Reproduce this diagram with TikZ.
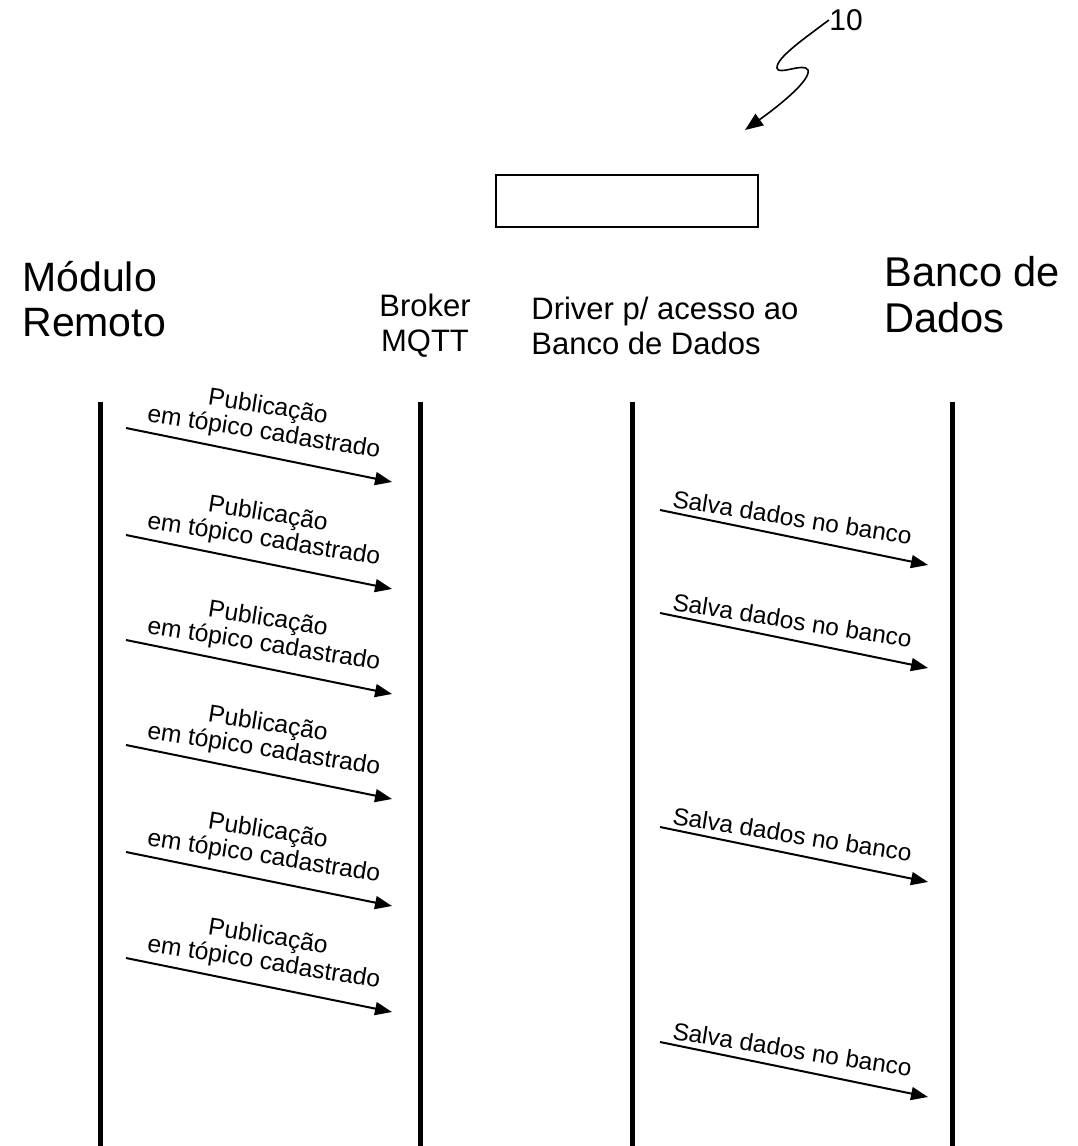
\documentclass[tikz,border=0pt]{standalone}
\usepackage{fontspec}
\setmainfont{Liberation Sans}
\usetikzlibrary{arrows.meta}

\tikzset{
  lifeline/.style={line width=2.5pt},
  msg/.style={line width=1pt,-{Triangle[length=8.5pt,width=6.5pt]}},
  msglabel/.style={rotate=-9,align=center,inner sep=0pt,font=\fontsize{12.3}{13}\selectfont},
  bigtitle/.style={inner sep=0pt,align=left,font=\fontsize{20.5}{22.8}\selectfont},
  smalltitle/.style={inner sep=0pt,font=\fontsize{15.5}{17.5}\selectfont},
}

\begin{document}
\begin{tikzpicture}[x=0.5pt,y=-0.5pt]
    \useasboundingbox (0,0) rectangle (1077,1146);

    % participants
    \node[bigtitle,anchor=west] (modulo) at (22,299) {Módulo\\Remoto};
    \node[smalltitle,align=center] (broker) at (425,326) {Broker\\MQTT};
    \node[smalltitle,align=left,anchor=west] (driver) at (531,326) {Driver p/ acesso ao\\Banco de Dados};
    \node[bigtitle,anchor=west,font=\fontsize{20.8}{23}\selectfont] (banco) at (884,295) {Banco de\\Dados};

    % reference numeral and empty box
    \node[inner sep=0pt,font=\fontsize{15}{15}\selectfont] (ref) at (846,20) {10};
    \node[draw,line width=1.2pt,minimum width=131pt,minimum height=26pt,inner sep=0pt] (box) at (627,201) {};
    \draw[line width=0.8pt,-{Triangle[length=9pt,width=7pt]}] (ref.west) .. controls (805,38) and (776,58) .. (777,68)
        .. controls (778,76) and (804,62) .. (808,70) .. controls (811,80) and (780,105) .. (745,130);

\foreach \x/\name in {100/mr,420/mq,632/dr,952/bd}
    {\coordinate (\name top) at (\x,402); \coordinate (\name bot) at (\x,1146);
     \draw[lifeline] (\name top) -- (\name bot);}

% Modulo -> Broker
\foreach \i/\y in {1/428,2/535,3/640,4/745,5/852,6/958}
    {\coordinate (pub\i a) at (126,\y); \coordinate (pub\i b) at (392,\y+54);
     \draw[msg] (pub\i a) -- (pub\i b);
     \node[msglabel,anchor=south] (pub\i l) at (262,\y+17) {Publicação\\em tópico cadastrado};}

% Driver -> Banco
\foreach \i/\y in {1/510,2/613,3/827,4/1042}
    {\coordinate (sal\i a) at (660,\y); \coordinate (sal\i b) at (928,\y+55);
     \draw[msg] (sal\i a) -- (sal\i b);
     \node[msglabel,anchor=base,font=\fontsize{12.2}{13}\selectfont] (sal\i l) at (791,\y+16) {Salva dados no banco};}
\end{tikzpicture}
\end{document}
